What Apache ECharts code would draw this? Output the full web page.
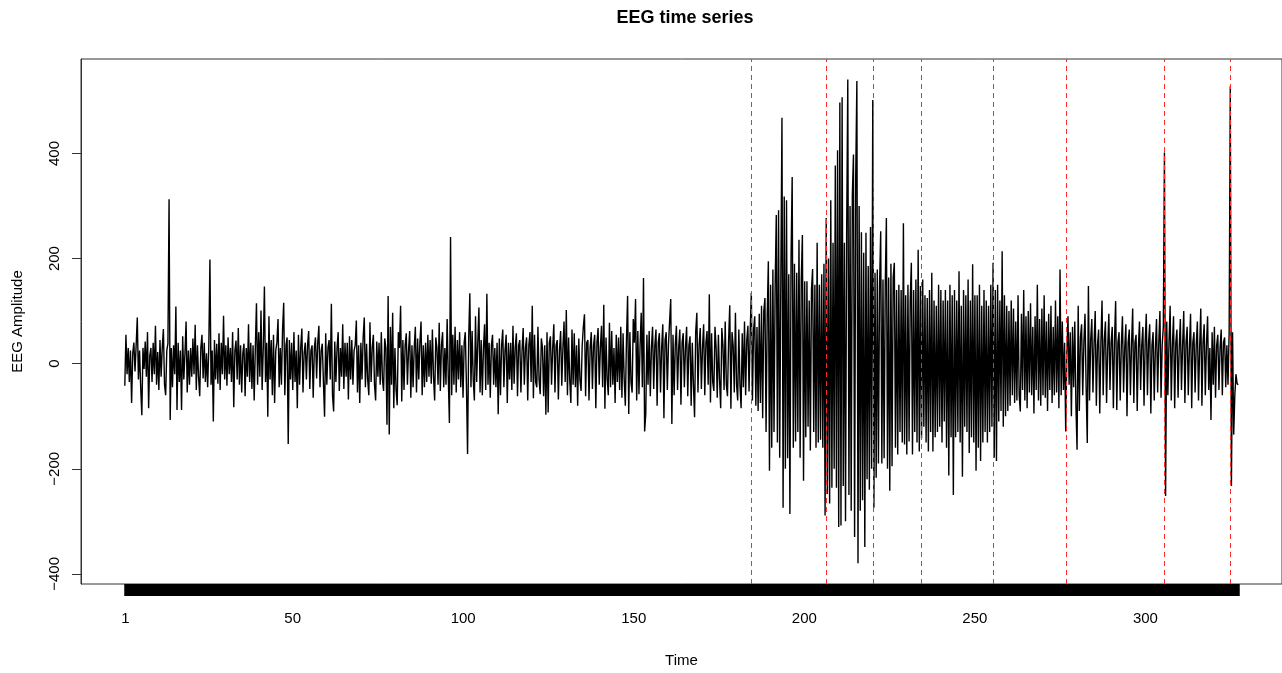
<!DOCTYPE html>
<html>
<head>
<meta charset="utf-8">
<title>EEG time series</title>
<script src="https://cdn.jsdelivr.net/npm/echarts@6/dist/echarts.min.js"></script>
<style>
  html, body { margin: 0; padding: 0; background: #fff; }
  #chart { width: 1282px; height: 673px; }
</style>
</head>
<body>
<div id="chart"></div>
<script>
// sampling of the recording (time of first sample, step between samples)
const t0 = 0.8;
const sampleStep = 0.33273;

// EEG amplitude (3 samples per time unit, 10 units per row)
const eeg = [
  -42, 55, -20, 30, -35, 25, -75, 20, 40, -15, 35, 88, -30, 25, -45, -98, 30, -10, 42, -25, 60, -85, 15, 30, -35, 40, -20, 72, -40, 22,
  -50, 45, -25, 30, 66, -40, -60, 25, 38, 313, -107, 30, -45, 35, -20, 109, -88, 40, -35, 25, -88, 52, -30, 20, 80, -55, 25, -40, 30, -25,
  48, -20, 74, -50, 35, -25, -62, 30, 55, -28, 40, -35, 20, -45, 30, 198, -40, 25, -110, 45, -30, 38, -38, 58, -50, 40, -20, 91, -30, 35,
  -42, 50, -20, 30, -35, 60, -83, 25, 44, -30, 68, -40, 35, -55, 20, 38, -62, 30, -25, 75, -35, 40, -48, 35, -70, 30, 115, -40, 60, -25,
  101, -50, 30, 147, -35, 40, -101, 90, -30, 45, -60, 55, -75, 25, 40, 85, -45, 30, -40, 65, 116, -60, 35, 50, -153, 45, -30, 40, -50, 60,
  -35, 25, -85, 55, -40, 30, 67, -55, 20, 40, -30, 35, 62, -48, 25, 35, -65, 30, 50, -28, 40, 72, -45, 25, 38, -35, -101, 58, -40, 30,
  45, -30, 114, -60, -91, 42, -35, 30, 60, -52, 30, -25, 75, -48, 40, -25, 40, -68, 52, -30, 45, -40, 25, 35, 82, -55, 35, -75, 40, -30,
  50, 88, -45, 38, -30, -60, 79, -35, 30, 55, -40, -70, 42, -25, 40, -40, 60, -30, -52, 48, 30, -116, 129, -135, 70, -40, 97, -85, 30, -50,
  -79, 60, 30, 110, -72, 45, -50, 35, 58, -40, 25, 62, -65, 35, -45, 30, 70, -55, 48, -30, 40, 80, -60, 35, -45, 40, -35, 55, -25, 45,
  -38, 65, -25, -70, 50, 30, -40, 78, -52, 35, 60, -45, 30, -40, 85, -25, -113, 241, -60, 55, -40, 70, -55, 45, -30, 60, -45, 35, -65, 40,
  60, -40, -172, 50, 134, -45, 62, -30, -70, 90, -35, 40, 107, -55, 45, -60, 30, 75, -50, 133, -40, 40, -65, 35, 55, -40, 30, -45, 40, -96,
  48, -60, 35, 65, -45, 25, 55, -75, 40, -30, 40, -50, 72, -38, 30, 58, -62, 35, 45, -55, 25, 68, -40, 30, 50, -70, 35, 60, -35, 110,
  -66, 55, -35, -45, 70, -30, -58, 48, 30, -62, 35, -97, 60, -93, 40, 52, -40, 30, 75, -55, 35, 45, -68, 25, 62, -42, 30, 80, -35, 102,
  -60, 50, -30, -75, 65, -40, 58, -45, 35, -80, 48, -30, -52, 35, 70, 94, -62, 40, 45, -70, 30, 60, -48, 35, 55, -85, 40, 68, -40, 30,
  72, -45, 112, -86, 50, -30, -60, 78, -45, 62, -40, 30, -75, 55, -35, 50, -50, 70, -65, 58, -30, -80, 45, 129, -96, 60, -35, -55, 85, 40,
  123, -70, 62, -58, 35, 97, -45, 163, -129, -96, 55, -40, 62, -62, 30, 70, -48, 35, 65, -80, 40, 58, -55, 30, 75, -104, 45, 60, -50, 35,
  80, 123, -115, 55, -60, 35, 72, -50, 30, 65, -78, 40, 58, -45, 30, 70, -62, 35, 52, -80, 40, -40, -102, 60, 97, -55, 35, 68, -48, 30,
  75, -60, 40, 62, -40, 132, -74, 58, -35, -52, 70, 30, -65, 55, -30, -85, 68, 35, -50, 80, -40, -62, 45, 111, -86, 60, 35, -55, 97, -40,
  -70, 65, -40, -85, 58, -45, 80, -60, 45, 72, -53, 60, 135, -70, 65, 90, -80, 70, -90, 95, -75, 110, -104, 100, 125, -130, 90, 195, -204, 150,
  -160, 179, -130, 150, 283, -150, 292, -179, 160, 468, -274, 318, -200, 311, -180, 170, -286, 200, 355, -160, 190, -148, 173, -130, 236, -179, 160, 245, -223, 157,
  -140, 157, -120, 120, -165, 140, 180, -130, 150, -160, 230, -150, 150, -145, 170, -160, 190, -289, 277, -248, 200, -266, 311, -236, 230, -200, 377, -236, 406, -311,
  497, -308, 507, -233, 230, -300, 250, 541, -250, 300, -280, 320, 398, -330, 358, 538, -380, 300, -280, 250, -260, 211, -349, 249, -220, 186, -240, 260, -200, 502,
  -274, 173, -217, 179, -190, 150, 252, -190, 160, -180, 150, 277, -200, 164, -242, 190, -195, 164, 192, -160, 140, -173, 150, -130, 140, -150, 267, -154, 130, -173,
  150, -148, 120, 192, -173, 140, -130, 160, -150, 217, -167, 148, -142, 160, -120, 130, -150, 125, -167, 140, -130, 173, -167, 120, -140, 110, -130, 150, -120, 140,
  -150, 120, -110, 140, -160, 120, -213, 150, -140, 130, -250, 140, -140, 120, -130, 176, -150, 110, -215, 140, -120, 130, -130, 160, -170, 120, -140, 189, -150, 130,
  -204, 130, -160, 150, -185, 110, -150, 140, -130, 120, -150, 110, -130, 150, -120, 192, -179, 140, -185, 150, -110, 120, -90, 214, -120, 130, -100, 110, -90, 100,
  -80, 120, -60, 105, -75, 80, -70, 130, -60, -91, 95, -50, 140, -70, 90, -85, 100, -55, 115, -60, 70, -95, 90, -50, 150, -70, 85, -80, 105, -60,
  130, -65, 80, -90, 95, -50, 110, -75, 70, -60, 120, -55, 90, -85, 179, -60, 80, -50, 40, -129, 20, 90, -40, 60, -100, 70, -45, 80, -80, -164,
  110, -90, 50, 75, -60, 40, 95, -45, -151, 148, -70, 45, 85, -55, 40, 100, -80, 35, 65, -95, 40, 120, -60, 45, 80, -75, 30, 95, -50, 40,
  70, -85, 45, 119, -88, 40, 60, -70, 35, 90, -55, 30, 75, -100, 40, 65, -60, 35, 105, -75, 40, 55, -90, 30, 80, -50, 35, 70, -80, 40,
  95, -60, 40, 75, -95, 35, 60, -70, 30, 85, -55, 40, 100, -65, 35, 70, 402, -252, 80, -60, 40, 110, -70, 35, 90, -85, 40, 65, -65, 30,
  85, -50, 35, 100, -75, 40, 70, -60, 30, 95, -85, 40, 60, -55, 35, 80, -70, 30, 105, -80, 40, 75, -60, 35, 90, -50, 30, -107, 60, -40,
  70, -65, 35, 55, -50, 30, 65, -60, 40, 50, -45, 35, -40, 60, 528, -233, 60, -135, -60, -20, -38, -40
];

// dashed red markers
const changePoints = [184.5, 206.3, 220.2, 234.3, 255.4, 276.7, 305.5, 324.8];

const xTickLabels = [1, 50, 100, 150, 200, 250, 300];
const yTickLabels = [-400, -200, 0, 200, 400];

const fuente = "'Liberation Sans', Arial, Helvetica, sans-serif";

document.addEventListener('DOMContentLoaded', function() {
    const time = eeg.map((v, i) => +(t0 + i * sampleStep).toFixed(3));
    const chart = echarts.init(document.getElementById('chart'));

    const option = {
        animation: false,
        title: {
            text: 'EEG time series',
            left: 685,
            top: 9,
            textAlign: 'center',
            padding: 0,
            textStyle: { fontFamily: fuente, fontSize: 18, fontWeight: 'bold', color: '#000' }
        },
        grid: {
            left: 81, right: -8, top: 59, bottom: 86,
            show: true, borderColor: '#333', borderWidth: 1
        },
        xAxis: {
            type: 'value',
            min: -12.04,
            max: 340.04,
            name: 'Time',
            nameLocation: 'middle',
            nameGap: 69,
            nameTextStyle: { fontFamily: fuente, fontSize: 15, color: '#000' },
            axisLine: { show: false, onZero: false },
            // one tick per sample -> solid bar under the plot
            axisTick: { customValues: time, length: 12, lineStyle: { color: '#000', width: 2.5 } },
            axisLabel: { customValues: xTickLabels, margin: 27, fontFamily: fuente, fontSize: 15, color: '#000' },
            splitLine: { show: false }
        },
        yAxis: {
            type: 'value',
            min: -419.3,
            max: 579.8,
            name: 'EEG Amplitude',
            nameLocation: 'middle',
            nameGap: 56,
            nameTextStyle: { fontFamily: fuente, fontSize: 15, color: '#000' },
            axisLine: { show: true, onZero: false, lineStyle: { color: '#333' } },
            axisTick: { customValues: yTickLabels, length: 9, lineStyle: { color: '#333' } },
            axisLabel: {
                customValues: yTickLabels,
                rotate: 90,
                margin: 19,
                fontFamily: fuente, fontSize: 15, color: '#000',
                formatter: v => v < 0 ? '\u2212' + Math.abs(v) : String(v)
            },
            splitLine: { show: false }
        },
        series: [{
            type: 'line',
            data: time.map((t, i) => [t, eeg[i]]),
            showSymbol: false,
            symbol: 'none',
            lineStyle: { color: '#000', width: 1.4 },
            clip: true,
            markLine: {
                silent: true,
                symbol: ['none', 'none'],
                label: { show: false },
                lineStyle: { color: '#ff2a2a', type: [5, 4], width: 1 },
                data: changePoints.map(x => ({ xAxis: x }))
            }
        }]
    };
    chart.setOption(option);
});
</script>
</body>
</html>
